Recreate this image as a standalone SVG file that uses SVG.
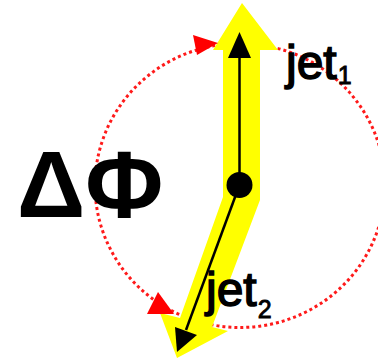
<svg xmlns="http://www.w3.org/2000/svg" width="378" height="361" viewBox="0 0 378 361">
<style>
.orbit{fill:none;stroke:#ff1a1a;stroke-width:3;stroke-dasharray:3 3}
.red{fill:#ff0000}
.band{fill:#ffff00}
.blk{stroke:#000;stroke-width:2.5;fill:none}
.head{fill:#000}
.lbl{font-family:"Liberation Sans",Arial,sans-serif;fill:#000}
.jet{font-size:48px;stroke:#000;stroke-width:1.5}
.sub{font-size:25px;stroke-width:0.9}
</style>
<rect width="378" height="361" fill="#fff"/>
<g id="orbit">
<ellipse class="orbit" cx="240" cy="185.5" rx="145" ry="142"/>
</g>
<g id="dphi">
<text class="lbl" x="17" y="217" font-size="95" font-weight="bold">ΔΦ</text>
</g>
<g id="yellow-jets">
<polygon class="band" points="242,3 278,50 260,50 260,200 212,327 228,331 177,358 160,313 180,318 223,197 223,50 213,50"/>
</g>
<g id="connectors">
<line class="blk" x1="239.5" y1="185" x2="239.5" y2="56"/>
<polygon class="head" points="239.5,32 228,58 251,58"/>
<line class="blk" x1="239.5" y1="185" x2="186" y2="330"/>
<polygon class="head" points="177,352 175,327 197,335"/>
</g>
<g id="center">
<circle cx="239.5" cy="185" r="13" fill="#000"/>
</g>
<g id="arrows">
<polygon class="red" points="193,35 218,43 197,55"/>
<polygon class="red" points="158,292 147,314 174,314"/>
</g>
<g id="jet1">
<text class="lbl jet" x="286" y="79">jet<tspan class="sub" dx="1" dy="5">1</tspan></text>
</g>
<g id="jet2">
<text class="lbl jet" x="206" y="306">jet<tspan class="sub" dx="1" dy="12">2</tspan></text>
</g>
</svg>
